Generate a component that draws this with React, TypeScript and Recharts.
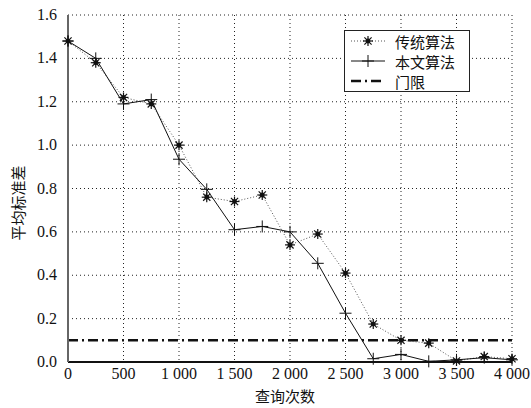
import { ComposedChart, Line, XAxis, YAxis, CartesianGrid, ReferenceLine } from 'recharts';

// query counts
const queries = [0, 250, 500, 750, 1000, 1250, 1500, 1750, 2000, 2250, 2500, 2750, 3000, 3250, 3500, 3750, 4000];
// 传统算法
const traditional = [1.48, 1.38, 1.22, 1.19, 1.0, 0.76, 0.74, 0.77, 0.54, 0.59, 0.41, 0.175, 0.1, 0.087, 0.005, 0.025, 0.015];
// 本文算法
const proposed = [1.48, 1.40, 1.19, 1.21, 0.935, 0.796, 0.61, 0.625, 0.6, 0.455, 0.225, 0.015, 0.035, 0.003, 0.01, 0.02, 0.01];
const threshold = 0.1;

const xTicks = [0, 500, 1000, 1500, 2000, 2500, 3000, 3500, 4000];
const yTicks = [0, 0.2, 0.4, 0.6, 0.8, 1.0, 1.2, 1.4, 1.6];

const data = queries.map((q, i) => ({ q, traditional: traditional[i], proposed: proposed[i] }));

const CJK = 'Noto Sans CJK SC';

const css = `
  text.serif-tick { font-family: 'Liberation Serif', 'Times New Roman', 'DejaVu Serif', serif !important; font-size: 16px; }
`;

const fmtX = (v: number) => (v >= 1000 ? `${Math.floor(v / 1000)} ${String(v % 1000).padStart(3, '0')}` : String(v));

function Star(props: any) {
  const { cx, cy, index } = props;
  if (cx == null || cy == null) return null;
  const r = 5;
  const d = 3.6;
  return (
    <g key={`star-${index}`} stroke="#111" strokeWidth={1.2}>
      <line x1={cx - r} y1={cy} x2={cx + r} y2={cy} />
      <line x1={cx} y1={cy - r} x2={cx} y2={cy + r} />
      <line x1={cx - d} y1={cy - d} x2={cx + d} y2={cy + d} />
      <line x1={cx - d} y1={cy + d} x2={cx + d} y2={cy - d} />
      <circle cx={cx} cy={cy} r={1.8} fill="#111" />
    </g>
  );
}

function Plus(props: any) {
  const { cx, cy, index } = props;
  if (cx == null || cy == null) return null;
  const r = 6;
  return (
    <g key={`plus-${index}`} stroke="#111" strokeWidth={1}>
      <line x1={cx - r} y1={cy} x2={cx + r} y2={cy} />
      <line x1={cx} y1={cy - r} x2={cx} y2={cy + r} />
    </g>
  );
}

const renderXTick = (props: any) => {
  const { x, y, payload, index } = props;
  return (
    <text key={`xt-${index}`} className="serif-tick" x={x} y={y + 15} textAnchor="middle" fill="#111">
      {fmtX(payload.value)}
    </text>
  );
};

const renderYTick = (props: any) => {
  const { x, y, payload, index } = props;
  return (
    <text key={`yt-${index}`} className="serif-tick" x={x - 9} y={y + 5} textAnchor="end" fill="#111">
      {Number(payload.value).toFixed(1)}
    </text>
  );
};

function LegendBox() {
  const row: any = { display: 'flex', alignItems: 'center', height: 20 };
  const txt: any = { fontFamily: CJK, fontSize: 15, color: '#111', marginLeft: 10, lineHeight: '17px', whiteSpace: 'nowrap' };
  return (
    <div style={{ position: 'absolute', left: 344, top: 30, border: '1px solid #222', background: '#fff', width: 126, height: 62, padding: '0 0 0 6px', boxSizing: 'border-box' }}>
      <div style={row}>
        <svg width={34} height={12} style={{ flex: 'none' }}>
          <line x1={0} y1={6} x2={34} y2={6} stroke="#555" strokeDasharray="1 2" />
          <Star cx={17} cy={6} index={0} />
        </svg>
        <span style={txt}>传统算法</span>
      </div>
      <div style={row}>
        <svg width={34} height={14} style={{ flex: 'none' }}>
          <line x1={0} y1={7} x2={34} y2={7} stroke="#111" />
          <Plus cx={17} cy={7} index={0} />
        </svg>
        <span style={txt}>本文算法</span>
      </div>
      <div style={row}>
        <svg width={34} height={12} style={{ flex: 'none' }}>
          <line x1={0} y1={6} x2={34} y2={6} stroke="#111" strokeWidth={2.4} strokeDasharray="10 4 2 4" />
        </svg>
        <span style={txt}>门限</span>
      </div>
    </div>
  );
}

export default function App() {
  return (
    <div style={{ position: 'absolute', left: 0, top: 0, width: 531, height: 408, background: '#fff' }}>
      <style>{css}</style>
      <ComposedChart width={531} height={408} data={data} margin={{ top: 15, right: 19, bottom: 0, left: 0 }}>
        <CartesianGrid stroke="#222" strokeDasharray="1 3" strokeWidth={1} />
        <XAxis
          dataKey="q"
          type="number"
          domain={[0, 4000]}
          ticks={xTicks}
          height={46}
          tickLine={false}
          tickSize={0}
          axisLine={{ stroke: '#111', strokeWidth: 2 }}
          tick={renderXTick}
          label={{
            content: ({ viewBox }: any) => (
              <text x={viewBox.x + viewBox.width / 2 - 5} y={402} textAnchor="middle" fill="#111" fontFamily={CJK} fontSize={15}>
                查询次数
              </text>
            ),
          }}
        />
        <YAxis
          type="number"
          domain={[0, 1.6]}
          ticks={yTicks}
          width={68}
          tickLine={false}
          tickSize={0}
          axisLine={{ stroke: '#666', strokeWidth: 2 }}
          tick={renderYTick}
          label={{
            content: () => (
              <text x={0} y={0} transform="translate(24 203) rotate(-90)" textAnchor="middle" fill="#111" fontFamily={CJK} fontSize={15}>
                平均标准差
              </text>
            ),
          }}
        />
        <ReferenceLine y={threshold} stroke="#111" strokeWidth={2.4} strokeDasharray="10 4 2 4" />
        <Line
          type="linear"
          dataKey="traditional"
          stroke="#555"
          strokeWidth={1}
          strokeDasharray="1 2"
          dot={<Star />}
          isAnimationActive={false}
        />
        <Line
          type="linear"
          dataKey="proposed"
          stroke="#111"
          strokeWidth={1}
          dot={<Plus />}
          isAnimationActive={false}
        />
      </ComposedChart>
      <LegendBox />
    </div>
  );
}
